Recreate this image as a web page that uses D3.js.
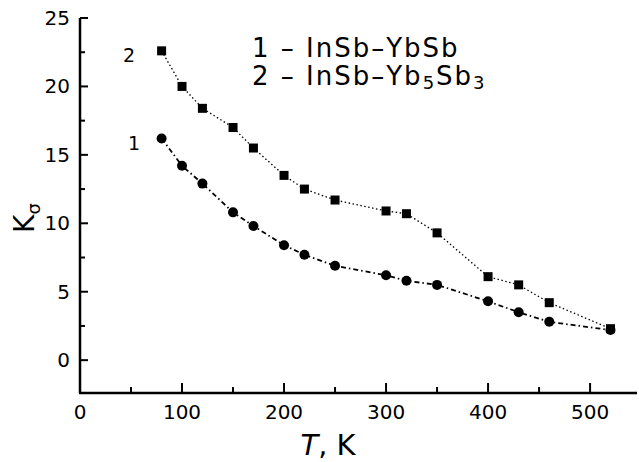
<!DOCTYPE html>
<html>
<head>
<meta charset="utf-8">
<script src="https://cdn.jsdelivr.net/npm/d3@7"></script>
<style>
  body { margin: 0; background: #fff; }
  svg { display: block; font-family: "DejaVu Sans", Arial, sans-serif; }
</style>
</head>
<body>
<div id="chart"></div>
<script>
/*
------------------------------
DATA
------------------------------
*/
const temps = [80, 100, 120, 150, 170, 200, 220, 250, 300, 320, 350, 400, 430, 460, 520];
const kYbSb = [16.2, 14.2, 12.9, 10.8, 9.8, 8.4, 7.7, 6.9, 6.2, 5.8, 5.5, 4.3, 3.5, 2.8, 2.2];
const kYb5Sb3 = [22.6, 20.0, 18.4, 17.0, 15.5, 13.5, 12.5, 11.7, 10.9, 10.7, 9.3, 6.1, 5.5, 4.2, 2.3];
const xTicks = [0, 100, 200, 300, 400, 500];
const yTicks = [0, 5, 10, 15, 20, 25];

/*
------------------------------
METHOD: sizes and scales
------------------------------
*/
let width = 639, height = 462;
let margin = { top: 18, right: 2, bottom: 69, left: 80 };

const svg = d3.select("#chart").append("svg")
    .attr("width", width)
    .attr("height", height);

const x = d3.scaleLinear().domain([0, 546]).range([margin.left, width - margin.right]);
const y = d3.scaleLinear().domain([-2.4, 25]).range([height - margin.bottom, margin.top]);

// axis lines
svg.append("line")
    .attr("x1", x(0)).attr("x2", x(0))
    .attr("y1", y(25)).attr("y2", y(-2.4))
    .attr("stroke", "#000").attr("stroke-width", 2.5);
svg.append("line")
    .attr("x1", x(0) - 1).attr("x2", x(546))
    .attr("y1", y(-2.4)).attr("y2", y(-2.4))
    .attr("stroke", "#000").attr("stroke-width", 2.5);

// y ticks (inward), major + minor
d3.range(0, 25.1, 2.5).forEach(v => {
    const major = v % 5 === 0;
    svg.append("line")
        .attr("x1", x(0)).attr("x2", x(0) + (major ? 8 : 5))
        .attr("y1", y(v)).attr("y2", y(v))
        .attr("stroke", "#000").attr("stroke-width", 2);
});
svg.selectAll(".ylab")
    .data(yTicks)
    .join("text")
    .attr("x", x(0) - 10)
    .attr("y", d => y(d) + 7)
    .attr("text-anchor", "end")
    .attr("font-size", "20px")
    .text(d => d);

// x ticks (inward), major + minor
d3.range(50, 546, 50).forEach(v => {
    const major = v % 100 === 0;
    svg.append("line")
        .attr("x1", x(v)).attr("x2", x(v))
        .attr("y1", y(-2.4)).attr("y2", y(-2.4) - (major ? 10 : 6))
        .attr("stroke", "#000").attr("stroke-width", 2);
});
svg.selectAll(".xlab")
    .data(xTicks)
    .join("text")
    .attr("x", d => x(d))
    .attr("y", y(-2.4) + 26)
    .attr("text-anchor", "middle")
    .attr("font-size", "20px")
    .text(d => d);

// axis titles
const xt = svg.append("text")
    .attr("x", 328).attr("y", 455)
    .attr("text-anchor", "middle")
    .attr("font-size", "29px");
xt.append("tspan").attr("font-style", "italic").text("T");
xt.append("tspan").text(", K");

const yt = svg.append("text")
    .attr("transform", "translate(34,218) rotate(-90)")
    .attr("text-anchor", "middle")
    .attr("font-size", "28px");
yt.append("tspan").text("K");
yt.append("tspan").attr("font-size", "18px").attr("dy", 6).text("σ");

/*
------------------------------
METHOD: draw the two series
------------------------------
*/
const line = d3.line()
    .x(d => x(d[0]))
    .y(d => y(d[1]));

const s1 = temps.map((t, i) => [t, kYbSb[i]]);
const s2 = temps.map((t, i) => [t, kYb5Sb3[i]]);

svg.append("path")
    .datum(s2)
    .attr("d", line)
    .attr("fill", "none")
    .attr("stroke", "#000")
    .attr("stroke-width", 1.3)
    .attr("stroke-dasharray", "1.5,2.5");

svg.append("path")
    .datum(s1)
    .attr("d", line)
    .attr("fill", "none")
    .attr("stroke", "#000")
    .attr("stroke-width", 1.8)
    .attr("stroke-dasharray", "5,3,1.5,3");

svg.selectAll(".sq")
    .data(s2)
    .join("rect")
    .attr("x", d => x(d[0]) - 4.5)
    .attr("y", d => y(d[1]) - 4.5)
    .attr("width", 9)
    .attr("height", 9)
    .attr("fill", "#000");

svg.selectAll(".dot")
    .data(s1)
    .join("circle")
    .attr("cx", d => x(d[0]))
    .attr("cy", d => y(d[1]))
    .attr("r", 5)
    .attr("fill", "#000");

// curve numbers
svg.append("text").attr("x", 129).attr("y", 62).attr("text-anchor", "middle")
    .attr("font-size", "19px").text("2");
svg.append("text").attr("x", 134).attr("y", 150).attr("text-anchor", "middle")
    .attr("font-size", "19px").text("1");

// legend
svg.append("text").attr("x", 252).attr("y", 57)
    .attr("font-size", "26px").attr("letter-spacing", "2px")
    .text("1 – InSb–YbSb");
const l2 = svg.append("text").attr("x", 252).attr("y", 85)
    .attr("font-size", "26px").attr("letter-spacing", "2px");
l2.append("tspan").text("2 – InSb–Yb");
l2.append("tspan").attr("font-size", "18px").attr("dy", 4).text("5");
l2.append("tspan").attr("dy", -4).text("Sb");
l2.append("tspan").attr("font-size", "18px").attr("dy", 4).text("3");
</script>
</body>
</html>
